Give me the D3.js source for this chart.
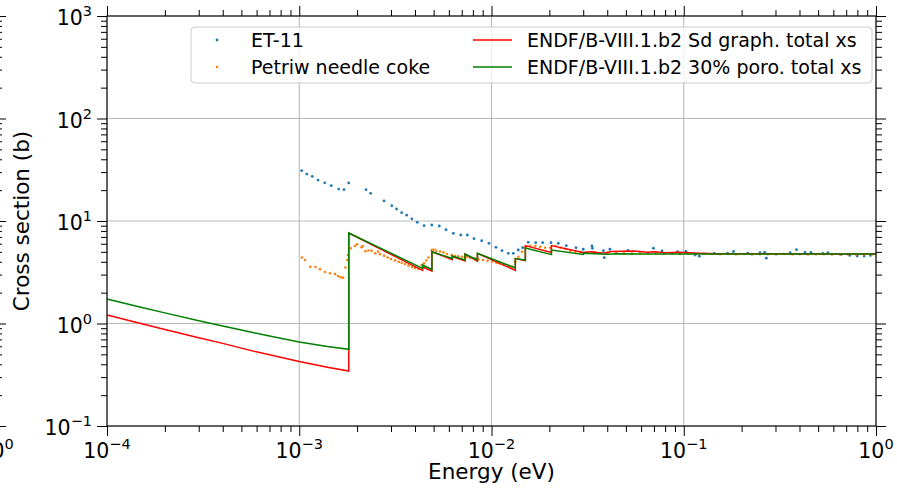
<!DOCTYPE html>
<html>
<head>
<meta charset="utf-8">
<script src="https://cdn.jsdelivr.net/npm/d3@7"></script>
<style>
  body { margin: 0; background: #fff; }
  svg { display: block; font-family: "DejaVu Sans", sans-serif; }
</style>
</head>
<body>
<svg id="chart" width="897" height="492"></svg>
<script>
// ET-11 measured total cross section (eV, barn)
const et11Energy = [1.03e-3,1.094e-3,1.169e-3,1.252e-3,1.357e-3,1.468e-3,1.604e-3,1.709e-3,1.808e-3,
  2.225e-3,2.353e-3,2.76e-3,3.03e-3,3.21e-3,3.41e-3,3.62e-3,3.85e-3,4.11e-3,4.46e-3,
  4.89e-3,5.35e-3,5.80e-3,6.33e-3,6.92e-3,7.48e-3,8.11e-3,8.89e-3,9.70e-3,
  1.055e-2,1.134e-2,1.223e-2,1.298e-2,1.378e-2,1.453e-2,1.553e-2,1.698e-2,1.846e-2,2.04e-2,
  2.226e-2,2.449e-2,2.75e-2,3.00e-2,3.33e-2,3.35e-2,3.82e-2,3.86e-2,4.13e-2,5.13e-2,
  6.95e-2,7.71e-2,9.28e-2,0.1027,0.1144,0.1205,0.1442,0.1689,0.1815,0.2151,
  0.2492,0.2637,0.2688,0.3579,0.3860,0.4273,0.4591,0.529,0.5615,0.6616,
  0.7298,0.7984,0.8682,0.9363];
const et11Xs = [30.95,28.7,27.3,25.1,23.6,22.1,20.5,20.2,23.5,
  20.2,18.6,15.7,14.1,13.1,12.05,11.4,10.5,9.7,9.0,
  9.14,8.94,8.22,7.59,7.30,7.30,6.72,6.42,6.06,
  5.54,5.13,4.84,4.84,5.21,5.49,6.20,6.15,6.15,6.15,
  6.06,5.74,5.49,5.30,5.70,5.42,5.13,4.39,5.30,5.18,
  5.42,5.10,5.02,5.06,4.66,4.54,4.84,4.85,5.04,4.85,
  4.90,4.95,4.34,4.91,5.25,4.93,4.93,4.84,4.91,4.73,
  4.61,4.55,4.55,4.61];

// Petriw needle coke measured total cross section
const petriwEnergy = [1.033e-3,1.071e-3,1.14e-3,1.215e-3,1.282e-3,1.361e-3,1.445e-3,1.535e-3,1.59e-3,1.64e-3,
  1.69e-3,1.74e-3,1.78e-3,1.79e-3,1.85e-3,1.95e-3,2.0e-3,2.11e-3,2.14e-3,2.21e-3,
  2.29e-3,2.38e-3,2.48e-3,2.57e-3,2.63e-3,2.76e-3,2.88e-3,3.0e-3,3.15e-3,3.29e-3,
  3.41e-3,3.55e-3,3.70e-3,3.86e-3,4.0e-3,4.17e-3,4.33e-3,4.45e-3,4.58e-3,4.70e-3,
  4.88e-3,5.0e-3,5.16e-3,5.40e-3,5.63e-3,5.87e-3,6.21e-3,6.46e-3,6.72e-3,7.03e-3,
  7.40e-3,7.73e-3,8.21e-3,8.55e-3,9.03e-3,9.55e-3,1.01e-2,1.06e-2,1.10e-2,1.16e-2,
  1.23e-2,1.28e-2,1.33e-2,1.38e-2,1.44e-2,1.50e-2,1.59e-2,1.69e-2,1.79e-2,1.90e-2,
  2.02e-2,2.15e-2,2.28e-2,2.42e-2,2.57e-2,2.73e-2,2.90e-2,3.14e-2,3.40e-2,
  3.67e-2,4.04e-2,4.44e-2,4.89e-2,5.38e-2,5.92e-2,6.52e-2,7.17e-2,7.89e-2,8.69e-2,
  9.56e-2,0.1052,0.1158,0.1275,0.1403,0.1544,0.170,0.187,0.206,0.2265,
  0.249,0.274,0.302,0.332,0.366,0.402,0.443,0.487,0.536,0.590,
  0.650,0.715,0.787,0.866,0.953];
const petriwXs = [4.40,4.16,3.57,3.56,3.39,3.18,3.09,3.04,2.91,2.83,
  2.80,3.52,4.16,4.66,5.43,5.70,5.93,5.54,5.70,5.08,
  5.15,5.13,4.84,5.03,4.74,4.57,4.40,4.26,4.13,4.0,
  3.91,3.81,3.69,3.56,3.48,3.40,3.72,3.86,4.12,4.40,
  5.21,5.28,5.13,5.04,4.93,4.76,4.66,4.55,4.52,4.48,
  4.45,4.38,4.33,4.23,4.16,4.10,4.03,3.91,3.85,3.72,
  3.64,3.58,4.01,4.48,5.02,5.48,5.74,5.70,5.61,5.48,
  5.48,5.70,5.48,5.33,5.10,5.02,4.94,4.94,4.94,
  4.87,4.82,4.90,4.85,4.80,4.87,4.80,4.83,4.78,4.80,
  4.76,4.79,4.75,4.78,4.76,4.74,4.77,4.73,4.76,4.72,
  4.75,4.74,4.72,4.76,4.73,4.74,4.71,4.73,4.75,4.72,
  4.70,4.72,4.70,4.71,4.72];

// ENDF/B-VIII.1.b2 evaluations
const sdEnergy = [1e-4,1.5e-4,2e-4,3e-4,4e-4,5.5e-4,7e-4,1e-3,1.4e-3,1.81e-3,1.81e-3,
  4.38e-3,4.38e-3,4.9e-3,4.9e-3,6.25e-3,6.25e-3,
  7.28e-3,7.28e-3,8.45e-3,8.45e-3,1.33e-2,1.33e-2,1.5e-2,1.5e-2,2.05e-2,2.05e-2,3.0e-2,3.3e-2,
  3.8e-2,4.2e-2,5.5e-2,6.5e-2,7e-2,8e-2,9.5e-2,0.12,0.15,1.0];
const sdXs = [1.21,1.0,0.875,0.725,0.64,0.55,0.495,0.425,0.375,0.344,7.64,
  3.30,3.56,3.25,5.02,4.2,4.5,
  4.07,4.76,4.05,4.84,3.30,4.3,4.1,5.75,4.93,5.75,4.93,5.0,
  4.85,5.05,5.1,4.95,5.0,4.9,4.95,4.85,4.8,4.77];

const poroEnergy = [1e-4,1.5e-4,2e-4,3e-4,4e-4,5.5e-4,7e-4,1e-3,1.4e-3,1.81e-3,1.81e-3,
  4.38e-3,4.38e-3,4.9e-3,4.9e-3,6.25e-3,6.25e-3,
  7.28e-3,7.28e-3,8.45e-3,8.45e-3,1.33e-2,1.33e-2,1.5e-2,1.5e-2,2.05e-2,2.05e-2,3.0e-2,3.0e-2,
  4.0e-2,4.5e-2,6e-2,0.1,1.0];
const poroXs = [1.73,1.44,1.27,1.065,0.945,0.83,0.755,0.66,0.595,0.56,7.64,
  3.45,3.72,3.36,5.02,4.30,4.55,
  4.16,4.76,4.16,4.84,3.48,4.30,4.16,5.45,4.70,5.21,4.72,4.85,
  4.75,4.8,4.76,4.77,4.76];

const xTickPowers = [-4, -3, -2, -1, 0];
const yTickPowers = [-1, 0, 1, 2, 3];
const legendLabels = ['ET-11', 'Petriw needle coke',
  'ENDF/B-VIII.1.b2 Sd graph. total xs', 'ENDF/B-VIII.1.b2 30% poro. total xs'];

const svg = d3.select('#chart');
const plotLeft = 107, plotRight = 876, plotTop = 16, plotBottom = 426;

const x = d3.scaleLog().domain([1e-4, 1]).range([plotLeft, plotRight]);
const y = d3.scaleLog().domain([1e-1, 1e3]).range([plotBottom, plotTop]);

const isMajor = v => Math.abs(Math.log10(v) - Math.round(Math.log10(v))) < 1e-9;
const xMajor = xTickPowers.map(p => Math.pow(10, p));
const yMajor = yTickPowers.map(p => Math.pow(10, p));
const xMinor = x.ticks().filter(v => !isMajor(v));
const yMinor = y.ticks().filter(v => !isMajor(v));

// grid
const grid = svg.append('g').attr('stroke', '#b9b9b9').attr('stroke-width', 1.1);
grid.selectAll('.gx').data(xMajor).enter().append('line')
  .attr('x1', d => x(d)).attr('x2', d => x(d)).attr('y1', plotTop).attr('y2', plotBottom);
grid.selectAll('.gy').data(yMajor).enter().append('line')
  .attr('y1', d => y(d)).attr('y2', d => y(d)).attr('x1', plotLeft).attr('x2', plotRight);

// axes: majors and minors on all four sides, ticks outward
function drawAxis(axisFn, scale, transform, major, minor) {
  svg.append('g').attr('transform', transform)
    .call(axisFn(scale).tickValues(minor).tickSize(6).tickFormat(''))
    .call(g => g.select('.domain').remove());
  svg.append('g').attr('transform', transform)
    .call(axisFn(scale).tickValues(major).tickSize(10).tickFormat(''))
    .call(g => g.select('.domain').remove());
}
drawAxis(d3.axisBottom, x, `translate(0,${plotBottom})`, xMajor, xMinor);
drawAxis(d3.axisTop, x, `translate(0,${plotTop})`, xMajor, xMinor);
drawAxis(d3.axisLeft, y, `translate(${plotLeft},0)`, yMajor, yMinor);
drawAxis(d3.axisRight, y, `translate(${plotRight},0)`, yMajor, yMinor);
// edge of the neighbouring panel, cut off at the left border
drawAxis(d3.axisRight, y, 'translate(-4,0)', yMajor, yMinor);

// data
const plot = svg.append('g');
plot.append('g').attr('fill', '#1f77b4').selectAll('circle')
  .data(d3.zip(et11Energy, et11Xs)).enter().append('circle')
  .attr('cx', d => x(d[0])).attr('cy', d => y(d[1])).attr('r', 1.4);
plot.append('g').attr('fill', '#ff7f0e').selectAll('circle')
  .data(d3.zip(petriwEnergy, petriwXs)).enter().append('circle')
  .attr('cx', d => x(d[0])).attr('cy', d => y(d[1])).attr('r', 1.3);

const line = d3.line().x(d => x(d[0])).y(d => y(d[1]));
plot.append('path').datum(d3.zip(sdEnergy, sdXs))
  .attr('d', line).attr('fill', 'none').attr('stroke', '#ff0000').attr('stroke-width', 1.5);
plot.append('path').datum(d3.zip(poroEnergy, poroXs))
  .attr('d', line).attr('fill', 'none').attr('stroke', '#008000').attr('stroke-width', 1.5);

svg.append('rect')
  .attr('x', plotLeft).attr('y', plotTop).attr('width', plotRight - plotLeft).attr('height', plotBottom - plotTop)
  .attr('fill', 'none').attr('stroke', '#000').attr('stroke-width', 1.1);

function powLabel(sel, p) {
  sel.append('tspan').text('10');
  sel.append('tspan').attr('dy', -9).attr('font-size', 14.5)
    .text(p < 0 ? '\u2212' + Math.abs(p) : String(p));
}
xTickPowers.forEach(p => {
  svg.append('text').attr('x', x(Math.pow(10, p))).attr('y', 458)
    .attr('text-anchor', 'middle').attr('font-size', 20.5).call(powLabel, p);
});
svg.append('text').attr('x', -4).attr('y', 458)
  .attr('text-anchor', 'middle').attr('font-size', 20.5).call(powLabel, 0);
yTickPowers.forEach(p => {
  svg.append('text').attr('x', 92).attr('y', y(Math.pow(10, p)) + 9)
    .attr('text-anchor', 'end').attr('font-size', 20.5).call(powLabel, p);
});

svg.append('text').attr('x', (plotLeft + plotRight) / 2).attr('y', 479)
  .attr('text-anchor', 'middle').attr('font-size', 21.5).text('Energy (eV)');
svg.append('text').attr('transform', `translate(29,${(plotTop + plotBottom) / 2}) rotate(-90)`)
  .attr('text-anchor', 'middle').attr('font-size', 21.5).text('Cross section (b)');

// legend
const legend = svg.append('g').attr('font-size', 19);
legend.append('rect').attr('x', 191).attr('y', 27).attr('width', 681).attr('height', 56)
  .attr('rx', 4).attr('fill', '#fff').attr('fill-opacity', 0.8)
  .attr('stroke', '#cccccc').attr('stroke-width', 1);
const rowY = [40, 67];
legend.append('circle').attr('cx', 217).attr('cy', rowY[0]).attr('r', 1.4).attr('fill', '#1f77b4');
legend.append('circle').attr('cx', 217).attr('cy', rowY[1]).attr('r', 1.3).attr('fill', '#ff7f0e');
legend.append('line').attr('x1', 473).attr('x2', 512).attr('y1', rowY[0]).attr('y2', rowY[0])
  .attr('stroke', '#ff0000').attr('stroke-width', 1.5);
legend.append('line').attr('x1', 473).attr('x2', 512).attr('y1', rowY[1]).attr('y2', rowY[1])
  .attr('stroke', '#008000').attr('stroke-width', 1.5);
[[251, rowY[0]], [251, rowY[1]], [527, rowY[0]], [527, rowY[1]]].forEach((pos, i) => {
  legend.append('text').attr('x', pos[0]).attr('y', pos[1] + 7).text(legendLabels[i]);
});
</script>
</body>
</html>
